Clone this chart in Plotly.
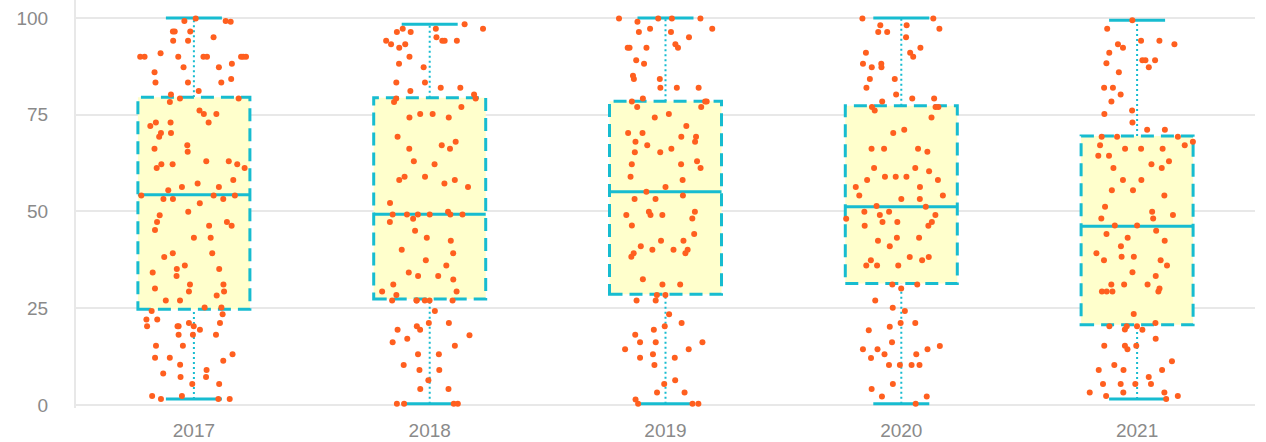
import plotly.graph_objects as go

years = ["2017", "2018", "2019", "2020", "2021"]

# box statistics
q1 = [24.7, 27.4, 28.6, 31.4, 20.7]
median = [54.3, 49.3, 55.1, 51.2, 46.2]
q3 = [79.5, 79.4, 78.5, 77.3, 69.5]
lower = [1.5, 0.3, 0.3, 0.3, 1.5]
upper = [100.0, 98.4, 100.0, 100.0, 99.4]

pts_2017 = [
    99.9, 99.0, 99.2, 99.2, 96.5, 96.5, 96.5, 95.0, 94.1, 94.1, 90.9,
    90.0, 90.0, 90.0, 90.0, 90.0, 90.0, 90.0, 90.0, 88.2, 87.3, 87.3, 86.0,
    84.2, 83.3, 83.3, 83.3, 81.1, 80.2, 79.2, 79.2, 78.3, 76.1, 75.2, 75.2,
    73.0, 73.0, 73.0, 72.1, 70.3, 70.3, 69.3, 67.1, 66.2, 65.4, 63.0, 62.2,
    62.2, 62.2, 63.0, 61.2, 61.2, 58.1, 57.2, 56.3, 55.5, 56.3, 53.2, 54.1,
    54.1, 54.1, 53.2, 53.2, 52.1,
    49.9, 49.0, 47.3, 45.2, 46.3, 46.3, 47.3, 43.2, 43.2, 39.2, 39.2, 38.2,
    35.1, 35.1, 36.0, 34.2, 33.3, 31.1, 31.1, 30.1, 29.3, 29.3, 28.3, 27.0,
    27.0, 25.2, 25.2, 24.3, 23.4, 22.1, 22.1, 21.2, 21.2, 20.3, 20.3, 19.4,
    20.3, 20.3, 18.1, 18.1, 18.1, 15.3, 15.3, 13.1, 12.2, 12.2, 11.4, 10.4,
    9.0, 8.1, 7.2, 7.2, 5.4, 5.4, 2.3, 2.3, 1.5, 1.5, 1.5,
]
pts_2018 = [
    97.2, 98.4, 96.4, 97.2, 96.4, 97.2, 94.1, 94.1, 95.0, 93.2, 92.3, 93.2,
    94.1, 94.1, 90.0, 88.2, 87.3, 82.0, 82.0, 83.3, 83.3, 81.1, 80.2, 79.2,
    79.2, 78.3, 77.0, 75.2, 75.2, 74.3, 74.3, 69.3, 68.0, 67.1, 66.2, 66.2,
    63.0, 62.2, 59.0, 59.0, 58.1, 58.1, 57.2, 56.3, 52.2,
    49.9, 49.2, 49.2, 49.2, 49.2, 48.1, 49.2, 49.2, 47.3, 45.0, 43.2, 42.4,
    40.1, 39.2, 37.4, 36.0, 34.2, 33.3, 33.3, 32.4, 31.1, 29.3, 29.3, 28.4,
    27.0, 27.0, 27.0, 27.0, 27.0, 27.0, 24.3, 21.2, 21.2, 19.4, 20.3, 19.4,
    18.0, 17.1, 16.2, 15.3, 13.1, 13.1, 10.3, 9.0, 9.0, 6.4, 4.1, 4.1,
    0.3, 0.3, 0.3, 0.3,
]
pts_2019 = [
    99.9, 99.9, 99.9, 99.9, 99.0, 97.2, 97.2, 96.4, 96.4, 95.0, 92.3, 93.2,
    92.3, 92.3, 92.3, 89.1, 88.2, 85.1, 84.2, 84.2, 82.0, 82.0, 82.0, 79.2,
    78.4, 78.4, 78.4, 77.0, 77.0, 75.2, 74.3, 72.1, 70.3, 70.3, 69.3, 69.3,
    68.0, 68.0, 67.1, 66.2, 65.3, 65.3, 63.0, 62.2, 62.2, 61.2, 59.0, 58.1,
    56.3, 55.1, 54.1, 53.2, 53.2,
    49.1, 49.1, 49.9, 48.2, 49.1, 49.9, 46.4, 44.2, 42.4, 42.4, 40.1, 40.1,
    40.1, 39.2, 41.0, 38.3, 39.2, 32.5, 31.1, 31.1, 28.4, 28.4, 27.0, 27.0,
    23.4, 21.2, 20.3, 19.4, 18.1, 16.2, 16.2, 16.2, 14.4, 14.4, 13.1, 12.2,
    12.2, 10.3, 6.4, 5.4, 3.2, 3.2, 1.4, 0.3, 0.3, 0.3,
]
pts_2020 = [
    99.9, 99.9, 98.1, 97.2, 98.1, 96.4, 95.0, 96.4, 92.3, 91.0, 90.0, 91.0,
    87.3, 87.3, 88.2, 88.2, 84.2, 84.2, 82.0, 80.2, 79.2, 79.2, 78.4, 77.0,
    77.0, 77.0, 76.1, 74.3, 71.1, 70.3, 66.2, 65.4, 66.2, 66.2, 61.2, 61.2,
    60.4, 59.0, 59.0, 59.0, 58.1, 58.1, 56.3, 56.3, 54.1, 54.1, 53.2, 53.2,
    51.4, 51.2, 49.9, 49.9, 49.1, 49.1, 47.3, 48.1, 46.3, 47.3, 46.3, 47.3,
    42.4, 43.2, 43.2, 41.0, 37.4, 38.2, 38.2, 37.4, 36.0, 36.0, 36.0, 30.1,
    31.1, 31.1, 27.0, 25.1, 24.3, 21.2, 21.2, 20.2, 19.3, 16.2, 14.4, 14.4,
    14.4, 15.2, 13.1, 13.1, 12.1, 10.3, 10.3, 10.3, 10.3, 5.4, 4.1, 2.2,
    2.2, 0.3,
]
pts_2021 = [
    99.4, 97.2, 94.1, 93.2, 94.1, 92.3, 93.2, 91.0, 89.1, 89.1, 88.3, 89.1,
    87.3, 86.0, 82.0, 82.0, 80.2, 78.4, 76.1, 75.2, 73.0, 71.1, 71.1, 69.3,
    69.3, 69.3, 68.0, 66.2, 66.2, 67.1, 67.1, 66.2, 64.4, 63.0, 64.4, 61.2,
    61.2, 62.2, 58.1, 58.1, 55.5, 55.5, 54.1,
    51.2, 49.9, 49.1, 48.2, 48.2, 46.4, 46.4, 45.0, 43.2, 44.2, 42.4, 41.0,
    39.2, 38.3, 38.3, 37.4, 36.0, 37.4, 34.3, 33.3, 31.1, 31.1, 30.1, 31.1,
    29.3, 29.3, 29.3, 29.3, 23.5, 21.2, 20.3, 20.3, 19.5, 20.3, 19.4, 17.1,
    15.3, 15.3, 15.3, 14.4, 11.3, 10.3, 9.0, 9.0, 9.0, 7.2, 5.4, 5.4, 5.4,
    5.4, 3.2, 3.2, 3.2, 2.3, 2.3, 1.5,
]
points = [pts_2017, pts_2018, pts_2019, pts_2020, pts_2021]

CYAN = "#17bcd0"
FILL = "#ffffcc"
DOT = "#ff5f1f"
BOX_W = 0.475
CAP_W = 0.2375

fig = go.Figure()

for yr, pts in zip(years, points):
    fig.add_trace(go.Box(
        x=[yr] * len(pts), y=pts, name=yr,
        boxpoints="all", jitter=1.0, pointpos=0, width=BOX_W,
        fillcolor="rgba(0,0,0,0)",
        line=dict(color="rgba(0,0,0,0)", width=0),
        marker=dict(color=DOT, size=6, line=dict(width=0)),
        showlegend=False, hoverinfo="y",
    ))

shapes = []
for i in range(len(years)):
    # whiskers (dotted)
    shapes.append(dict(type="line", xref="x", yref="y", x0=i, x1=i, y0=q3[i], y1=upper[i],
                       line=dict(color=CYAN, width=2, dash="2px,3px"), layer="between"))
    shapes.append(dict(type="line", xref="x", yref="y", x0=i, x1=i, y0=lower[i], y1=q1[i],
                       line=dict(color=CYAN, width=2, dash="2px,3px"), layer="between"))
    # caps
    for v in (upper[i], lower[i]):
        shapes.append(dict(type="line", xref="x", yref="y", x0=i - CAP_W / 2, x1=i + CAP_W / 2,
                           y0=v, y1=v, line=dict(color=CYAN, width=3), layer="between"))
    # box
    shapes.append(dict(type="rect", xref="x", yref="y", x0=i - BOX_W / 2, x1=i + BOX_W / 2,
                       y0=q1[i], y1=q3[i], fillcolor=FILL,
                       line=dict(color=CYAN, width=3, dash="13px,7px"), layer="between"))
    # median
    shapes.append(dict(type="line", xref="x", yref="y", x0=i - BOX_W / 2, x1=i + BOX_W / 2,
                       y0=median[i], y1=median[i], line=dict(color=CYAN, width=3), layer="between"))

GRID = "#e8e8e8"
fig.update_layout(
    width=1266, height=442,
    margin=dict(l=76, r=11, t=0, b=34),
    paper_bgcolor="white", plot_bgcolor="white",
    font=dict(family="Liberation Sans, Arial, sans-serif", size=19, color="#8a8a8a"),
    shapes=shapes,
    boxmode="overlay",
    xaxis=dict(type="category", categoryorder="array", categoryarray=years,
               range=[-0.5, 4.5], showgrid=False, showline=False, ticks="",
               ticklabelstandoff=9, zeroline=False, automargin=False),
    yaxis=dict(range=[-0.8, 104.65], tick0=0, dtick=25, showgrid=True,
               gridcolor=GRID, gridwidth=2, zeroline=True, zerolinecolor=GRID,
               zerolinewidth=2, showline=True, linecolor=GRID, linewidth=2,
               ticks="", ticklabelstandoff=22, automargin=False),
)

fig.write_html("out.html", config={"displayModeBar": False},
               post_script="document.body.style.margin='0';")
